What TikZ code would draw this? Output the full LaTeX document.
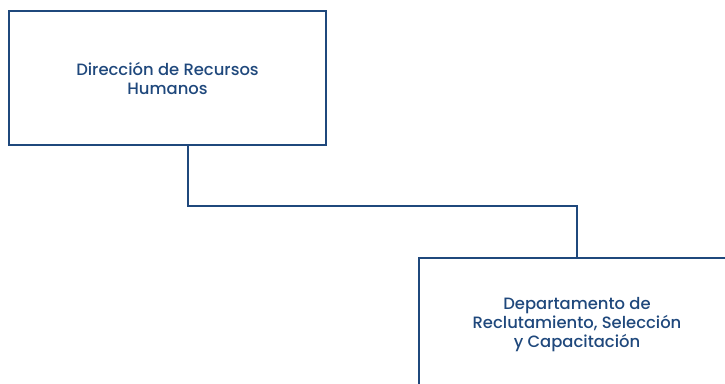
\documentclass[tikz,border=0pt]{standalone}
\usepackage{fontspec}
\setmainfont{Poppins}[UprightFont=* Medium]
\definecolor{navy}{RGB}{31,72,124}
\begin{document}
\begin{tikzpicture}[x=1pt,y=-1pt,
  unitbox/.style={draw=navy, line width=2pt, minimum width=317pt, minimum height=134pt,
    inner sep=0pt, align=center, text=navy, font=\fontsize{16.4}{19}\selectfont},
  link/.style={draw=navy, line width=2pt}]
\useasboundingbox (0,0) rectangle (725,383);
\clip (0,0) rectangle (725,383);
\node[unitbox] (rrhh) at (167.5,78) {Dirección de Recursos\\Humanos};
\node[unitbox] (dept) at (577,325) {Departamento de\\Reclutamiento, Selección\\y Capacitación};
\draw[link] (rrhh.south -| 187.5,0) |- (577,205.5) -- (dept.north);
\end{tikzpicture}
\end{document}
